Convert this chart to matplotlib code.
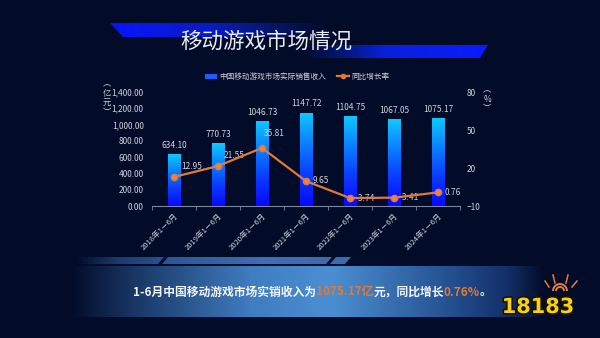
import numpy as np
import matplotlib
matplotlib.use("Agg")
import matplotlib.pyplot as plt
from matplotlib.colors import LinearSegmentedColormap, to_rgb
from matplotlib.patches import Polygon, Patch, Arc
from matplotlib.lines import Line2D
import matplotlib.patheffects as pe

plt.rcParams['font.family'] = ['Noto Sans CJK SC', 'DejaVu Sans']

# ---- data ----
periods = ['2018年1－6月', '2019年1－6月', '2020年1－6月', '2021年1－6月',
           '2022年1－6月', '2023年1－6月', '2024年1－6月']
revenue = [634.10, 770.73, 1046.73, 1147.72, 1104.75, 1067.05, 1075.17]
growth = [12.95, 21.55, 35.81, 9.65, -3.74, -3.41, 0.76]
revenue_ticks = [0, 200, 400, 600, 800, 1000, 1200, 1400]
growth_ticks = [-10, 20, 50, 80]

# growth label offsets in pixels (dx, dy upward)
growth_label_offsets = [(7, 10), (6, 11), (2, 14), (7, 1), (6, 0), (6, 0), (7, 0)]

BG = '#020b28'
TXT = '#cfd3de'
ORANGE = '#e07a36'

W, H = 600, 338
fig = plt.figure(figsize=(6.0, 3.38), dpi=100, facecolor=BG)

# ---- decorative background layer in pixel coordinates ----
bg = fig.add_axes([0, 0, 1, 1], zorder=0)
bg.set_xlim(0, W)
bg.set_ylim(H, 0)
bg.axis('off')
bg.set_facecolor(BG)


def gradient_poly(ax, verts, colors, positions, alphas, z=1):
    xs = [v[0] for v in verts]
    ys = [v[1] for v in verts]
    x0, x1, y0, y1 = min(xs), max(xs), min(ys), max(ys)
    n = 300
    t = np.linspace(0, 1, n)
    rgba = np.zeros((1, n, 4))
    cols = np.array([to_rgb(c) for c in colors])
    for k in range(3):
        rgba[0, :, k] = np.interp(t, positions, cols[:, k])
    rgba[0, :, 3] = np.interp(t, positions, alphas)
    poly = Polygon(verts, closed=True, facecolor='none', edgecolor='none')
    ax.add_patch(poly)
    im = ax.imshow(rgba, extent=[x0, x1, y1, y0], aspect='auto', zorder=z,
                   interpolation='bilinear')
    im.set_clip_path(poly)
    return im


# title banner
gradient_poly(bg, [(110, 23), (330, 23), (330, 37), (123, 37)],
              ['#0a14ff', '#0a20f0', '#0a2ad0'], [0, 0.45, 1], [1, 0.8, 0.0])
gradient_poly(bg, [(300, 45), (488, 45), (480, 58), (300, 58)],
              ['#0a2ad0', '#0a24ff', '#0a1cff'], [0, 0.45, 1], [0.0, 0.85, 1])
bg.text(266, 42, '移动游戏市场情况', color='#e8ecf4', fontsize=15.5,
        ha='center', va='center', zorder=3)

# summary band
gradient_poly(bg, [(70, 266), (545, 266), (545, 317), (70, 317)],
              [BG, '#17325f', '#3f7cc0', '#4b8fd2', '#2c5d9e', '#14306a', BG],
              [0, 0.12, 0.38, 0.55, 0.75, 0.92, 1], [1, 1, 1, 1, 1, 1, 1])
gradient_poly(bg, [(75, 257), (164, 257), (158, 264), (75, 264)],
              [BG, '#1d3b6c', '#2a5190'], [0, 0.5, 1], [1, 1, 1])
gradient_poly(bg, [(168, 257), (332, 257), (326, 264), (162, 264)],
              ['#2a5496', '#3d70b4', '#3a6cae'], [0, 0.6, 1], [1, 1, 1])
gradient_poly(bg, [(336, 257), (351, 257), (345, 264), (330, 264)],
              ['#3a6cae', '#3a6cae'], [0, 1], [1, 1])

# summary sentence with highlighted figures
fs = 8.5
t0 = bg.text(133, 292, '1-6月中国移动游戏市场实销收入为', color='#f2f4f8',
             fontsize=fs, fontweight='bold', ha='left', va='center', zorder=4)
t1 = bg.annotate('1075.17亿', xy=(1, 0), xycoords=t0, ha='left', va='bottom',
                 color=ORANGE, fontsize=fs, fontweight='bold', zorder=4)
t2 = bg.annotate('元，同比增长', xy=(1, 0), xycoords=t1, ha='left', va='bottom',
                 color='#f2f4f8', fontsize=fs, fontweight='bold', zorder=4)
t3 = bg.annotate('0.76%', xy=(1, 0), xycoords=t2, ha='left', va='bottom',
                 color=ORANGE, fontsize=fs, fontweight='bold', zorder=4)
t4 = bg.annotate('。', xy=(1, 0), xycoords=t3, ha='left', va='bottom',
                 color='#f2f4f8', fontsize=fs, fontweight='bold', zorder=4)

# site logo
bg.text(538, 307, '18183', color='#f4d21c', fontsize=15, fontweight='heavy',
        ha='center', va='center', zorder=5, family='DejaVu Sans',
        path_effects=[pe.withStroke(linewidth=2.5, foreground='#1a1408')])
for r in (4, 7):
    bg.add_patch(Arc((560, 291), 2 * r, 2 * r, theta1=180, theta2=360,
                     color='#e0803a', lw=1.4, zorder=5))
for (xa, ya, xb, yb) in [(549, 287, 545, 281), (555, 283, 553, 275),
                         (566, 283, 568, 275), (572, 287, 577, 281)]:
    bg.plot([xa, xb], [ya, yb], color='#e0803a', lw=1.1, zorder=5)

# ---- chart ----
ax = fig.add_axes([152 / W, 1 - 206 / H, (460 - 152) / W, (206 - 92) / H], zorder=2)
ax.set_facecolor('none')
x = np.arange(len(periods))
bar_w = 0.28
bars = ax.bar(x, revenue, width=bar_w, color='none', edgecolor='none', zorder=2)

cmap = LinearSegmentedColormap.from_list('barfill', ['#0808ff', '#0a3cff', '#0a80ff', '#10c8ff'])
grad = np.linspace(0, 1, 256).reshape(-1, 1)
for rect in bars:
    x0 = rect.get_x()
    h = rect.get_height()
    im = ax.imshow(grad, extent=[x0, x0 + bar_w, 0, h], origin='lower',
                   aspect='auto', cmap=cmap, zorder=2)
    im.set_clip_path(rect)

for xi, v in zip(x, revenue):
    ax.annotate(f'{v:.2f}', xy=(xi, v), xytext=(0, 3), textcoords='offset points',
                ha='center', va='bottom', color=TXT, fontsize=6)

ax.set_xlim(-0.5, len(periods) - 0.5)
ax.set_ylim(0, 1400)
ax.set_yticks(revenue_ticks)
ax.set_yticklabels([f'{v:,.2f}' for v in revenue_ticks])
ax.set_xticks(x)
ax.set_xticklabels(periods, rotation=45, ha='right', rotation_mode='anchor')
ax.set_xticks(np.arange(-0.5, len(periods)), minor=True)
ax.tick_params(axis='x', which='major', length=0, pad=4, labelsize=5.5, labelcolor=TXT)
ax.tick_params(axis='x', which='minor', length=3, color='#7d8799', direction='out')
ax.tick_params(axis='y', length=0, pad=6, labelsize=6, labelcolor=TXT)
for s in ('top', 'right', 'left'):
    ax.spines[s].set_visible(False)
ax.spines['bottom'].set_color('#7d8799')
ax.spines['bottom'].set_linewidth(0.8)

ax2 = ax.twinx()
ax2.set_facecolor('none')
ax2.plot(x, growth, color=ORANGE, lw=1.6, marker='o', markersize=4.5,
         markerfacecolor='#e8834a', markeredgecolor=ORANGE, zorder=4)
ax2.set_ylim(-10, 80)
ax2.set_yticks(growth_ticks)
ax2.tick_params(axis='y', length=0, pad=5, labelsize=6, labelcolor=TXT)
for s in ax2.spines.values():
    s.set_visible(False)
for xi, v, (dx, dy) in zip(x, growth, growth_label_offsets):
    ax2.annotate(f'{v:.2f}', xy=(xi, v), xytext=(dx * 0.72, dy * 0.72),
                 textcoords='offset points', ha='left', va='center',
                 color=TXT, fontsize=6, zorder=3)

# unit captions
bg.text(107, 98, '︵\n亿\n元\n︶', color=TXT, fontsize=6, ha='center', va='center',
        linespacing=1.05, zorder=3)
bg.text(487, 99, '︵\n%\n︶', color=TXT, fontsize=6, ha='center', va='center',
        linespacing=1.0, zorder=3)

# legend
handles = [Patch(facecolor='#1a5cff', edgecolor='none'),
           Line2D([0], [0], color=ORANGE, lw=1.6, marker='o', markersize=3)]
leg = fig.legend(handles, ['中国移动游戏市场实际销售收入', '同比增长率'],
                 loc='center', bbox_to_anchor=(297 / W, 1 - 77 / H), ncol=2,
                 frameon=False, fontsize=5.5, labelcolor=TXT, handlelength=1.6,
                 handleheight=0.6, columnspacing=1.4, handletextpad=0.3)

fig.savefig('out.png', dpi=100, facecolor=BG)
